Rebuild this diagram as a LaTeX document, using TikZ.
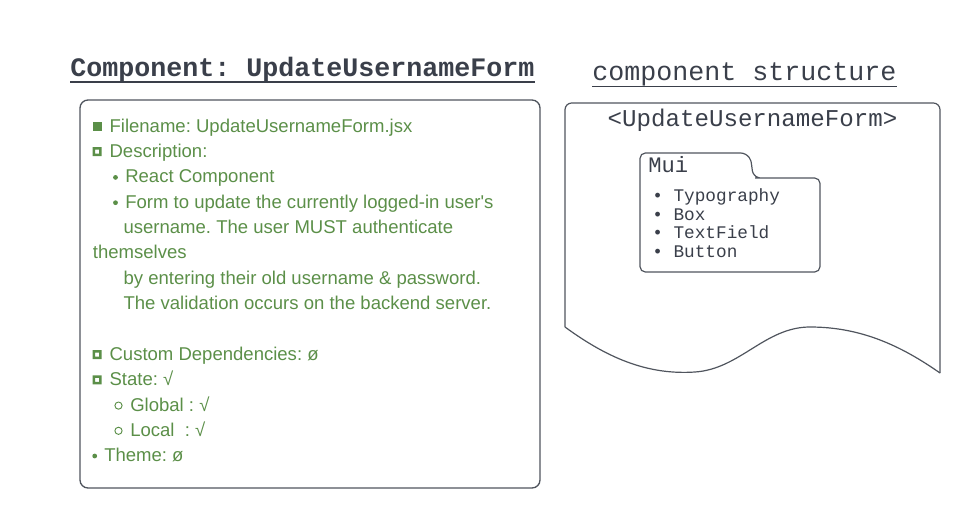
\documentclass[tikz,border=0pt]{standalone}
\usepackage{fontspec}
\setmainfont{Liberation Sans}
\setmonofont{Liberation Mono}
\frenchspacing
\newcommand{\sq}{\XeTeXglyph\XeTeXcharglyph"0027\relax}
\definecolor{dark}{HTML}{3A3F4A}
\definecolor{grn}{HTML}{5B8F48}
\definecolor{edge}{HTML}{50555E}
\begin{document}
\begin{tikzpicture}[x=0.75pt,y=-0.75pt,
  gline/.style={anchor=base west,inner sep=0pt,text=grn,font=\fontsize{13.9pt}{16pt}\selectfont},
  mono/.style={inner sep=0pt,text=dark},
  bul/.style={fill=grn,draw=none}]
\useasboundingbox (0,0) rectangle (980,528);
% titles
\node[mono,anchor=base,font=\fontsize{20pt}{24pt}\selectfont\ttfamily\bfseries] (t1) at (302.5,76) {Component: UpdateUsernameForm};
\draw[dark,line width=2pt] (70,82) -- (535,82);
\node[mono,anchor=base,font=\fontsize{20pt}{24pt}\selectfont\ttfamily] (t2) at (744.5,80) {component structure};
\draw[dark,line width=1.2pt] (592,86.5) -- (897,86.5);
% left box
\draw[edge,line width=1pt,rounded corners=6] (80,100) rectangle (540,488);
% lines
\node[gline] (l1) at (109.3,132.3) {Filename: UpdateUsernameForm.jsx};
\node[gline] (l2) at (109.3,157.6) {Description:};
\node[gline] (l3) at (125,182.9) {React Component};
\node[gline] (l4) at (125,208.2) {Form to update the currently logged-in user\sq s};
\node[gline] (l5) at (123.3,233.5) {username. The user MUST authenticate};
\node[gline] (l6) at (92.7,258.8) {themselves};
\node[gline] (l7) at (123.3,284.1) {by entering their old username \& password.};
\node[gline] (l8) at (123.3,309.4) {The validation occurs on the backend server.};
\node[gline] (l9) at (109.3,360.7) {Custom Dependencies: ø};
\node[gline] (l10) at (109.3,385.9) {State: √};
\node[gline] (l11) at (130,411.1) {Global : √};
\node[gline] (l12) at (130,436.3) {Local~~: √};
\node[gline] (l13) at (104,461.5) {Theme: ø};
% bullets
\fill[grn] (92.7,121.7) rectangle +(9,9);
\foreach \yy in {157.6,360.7,385.9}{
  \fill[grn,even odd rule] (92.7,\yy-10.6) rectangle +(9,9) (95.2,\yy-8.1) rectangle +(4,4);
}
\fill[grn] (115.5,182.9-5.5) circle (2.4);
\fill[grn] (115.5,208.2-5.5) circle (2.4);
\fill[grn] (94.7,461.5-5.5) circle (2.4);
\draw[grn,line width=0.7pt] (118.5,411.1-5.5) circle (3.6);
\draw[grn,line width=0.7pt] (118.5,436.3-5.5) circle (3.6);
% document shape
\draw[edge,line width=0.9pt,rounded corners=5] (565,327) -- (565,103) -- (940,103) -- (940,373);
\draw[edge,line width=0.9pt] (565,327) .. controls (610,360) and (650,375) .. (695,372)
   .. controls (740,369) and (765,327) .. (810,327)
   .. controls (860,327) and (900,345) .. (940,373);
\node[mono,anchor=base,font=\fontsize{18.1pt}{21pt}\selectfont\ttfamily] (doc) at (752.5,126) {<UpdateUsernameForm>};
% folder
\draw[edge,line width=0.9pt,rounded corners=4] (755,178) -- (820,178) -- (820,272) -- (640,272) -- (640,153) -- (746,153) .. controls (751,160) .. (753,176) -- (760,178);
\node[mono,anchor=base west,font=\fontsize{16.6pt}{20pt}\selectfont\ttfamily] (mui) at (648,172.7) {Mui};
\node[mono,anchor=base west,font=\fontsize{13.3pt}{16pt}\selectfont\ttfamily] (i1) at (652,201.7) {• Typography};
\node[mono,anchor=base west,font=\fontsize{13.3pt}{16pt}\selectfont\ttfamily] (i2) at (652,220.2) {• Box};
\node[mono,anchor=base west,font=\fontsize{13.3pt}{16pt}\selectfont\ttfamily] (i3) at (652,238.7) {• TextField};
\node[mono,anchor=base west,font=\fontsize{13.3pt}{16pt}\selectfont\ttfamily] (i4) at (652,257.2) {• Button};
\end{tikzpicture}
\end{document}
